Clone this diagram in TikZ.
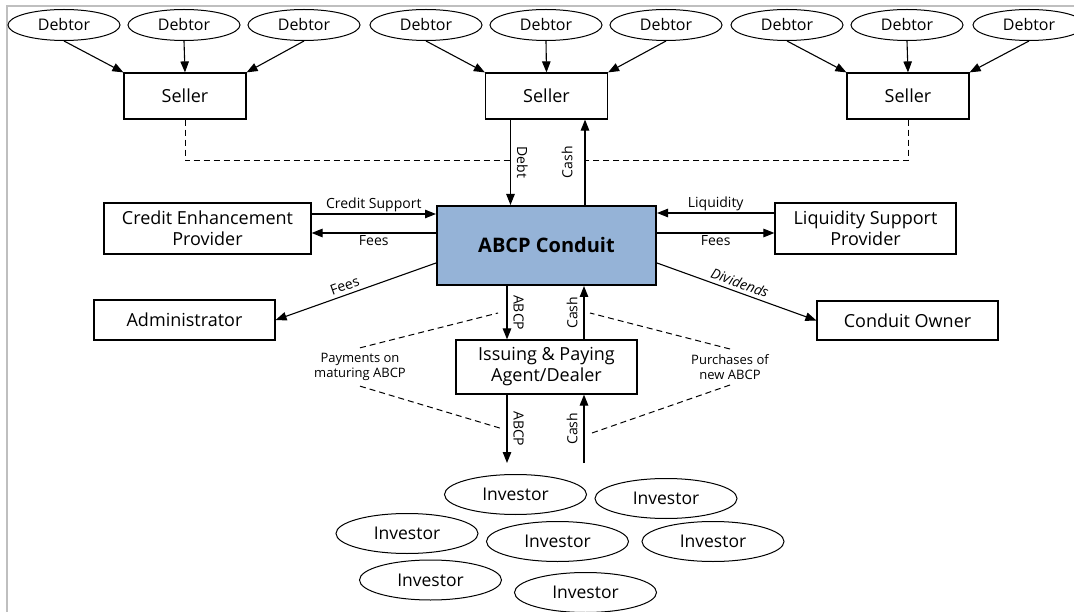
\documentclass[tikz,border=0pt]{standalone}
\usepackage{fontspec}
\setmainfont{Open Sans}
\usetikzlibrary{shapes.geometric, arrows.meta}
\newcommand{\debtorfont}{\fontsize{16}{19}\selectfont}
\newcommand{\investorfont}{\fontsize{17.5}{20}\selectfont}
\newcommand{\boxfont}{\fontsize{18}{21}\selectfont}
\newcommand{\conduitfont}{\fontsize{20}{24}\selectfont\bfseries}
\newcommand{\labfont}{\fontsize{14}{16}\selectfont}
\newcommand{\notefont}{\fontsize{13}{15.5}\selectfont}
\tikzset{
  debtor/.style={draw, ellipse, line width=1pt, minimum width=112pt,
    minimum height=31pt, inner sep=0pt, font=\debtorfont},
  investor/.style={debtor, minimum width=142pt, minimum height=40pt,
    font=\investorfont},
  party/.style={draw, rectangle, line width=1.2pt, align=center,
    inner sep=0pt, font=\boxfont},
  flow/.style={-{Triangle[length=11pt,width=8.5pt]}, line width=1.1pt},
  dashline/.style={dash pattern=on 6pt off 4pt, line width=1pt},
  lab/.style={font=\labfont, inner sep=2pt},
  slab/.style={font=\labfont, inner sep=3.5pt, above, sloped},
  vlab/.style={font=\labfont, anchor=south, inner sep=6pt},
  note/.style={font=\notefont, align=center, inner sep=5pt}
}
\begin{document}
\begin{tikzpicture}[x=1pt, y=-1pt]
\useasboundingbox (0,0) rectangle (1074,612);
\draw[black!25, line width=2pt] (7,612) -- (7,6) -- (1074,6);

% debtors and sellers
\node[debtor] (d11) at (64,25) {Debtor};
\node[debtor] (d12) at (184,25) {Debtor};
\node[debtor] (d13) at (304,25) {Debtor};
\node[debtor] (d21) at (426,25) {Debtor};
\node[debtor] (d22) at (546,25) {Debtor};
\node[debtor] (d23) at (666,25) {Debtor};
\node[debtor] (d31) at (787,25) {Debtor};
\node[debtor] (d32) at (907,25) {Debtor};
\node[debtor] (d33) at (1029,25) {Debtor};

\node[party, minimum width=122pt, minimum height=46pt] (s1) at (185,96) {Seller};
\node[party, minimum width=122pt, minimum height=46pt] (s2) at (546.5,96) {Seller};
\node[party, minimum width=122pt, minimum height=46pt] (s3) at (908,96) {Seller};

\draw[flow] (d11.south) -- (s1.north west);
\draw[flow] (d12.south) -- (s1.north);
\draw[flow] (d13.south) -- (s1.north east);
\draw[flow] (d21.south) -- (s2.north west);
\draw[flow] (d22.south) -- (s2.north);
\draw[flow] (d23.south) -- (s2.north east);
\draw[flow] (d31.south) -- (s3.north west);
\draw[flow] (d32.south) -- (s3.north);
\draw[flow] (d33.south) -- (s3.north east);

% conduit and the parties round it
\node[party, font=\conduitfont, fill={rgb,255:red,149;green,179;blue,215},
  line width=2pt, minimum width=219pt, minimum height=79pt] (cond) at (546.5,245.5) {ABCP Conduit};
\node[party, minimum width=207pt, minimum height=51pt] (cep) at (207.5,228.5) {Credit Enhancement\\Provider};
\node[party, minimum width=181pt, minimum height=40pt] (adm) at (184.5,320) {Administrator};
\node[party, minimum width=181pt, minimum height=51pt] (lsp) at (865.5,228.5) {Liquidity Support\\Provider};
\node[party, minimum width=181pt, minimum height=39pt] (own) at (907.5,320.5) {Conduit Owner};
\node[party, minimum width=181pt, minimum height=54pt] (ipa) at (546.5,367) {Issuing \& Paying\\Agent/Dealer};

\coordinate (debt) at ([xshift=-36pt]s2.south);
\coordinate (cash) at ([xshift=38.5pt]s2.south);
\coordinate (dashrow) at (0,161);
\draw[dashline] (s1.south) |- (debt |- dashrow);
\draw[dashline] (s3.south) |- (cash |- dashrow);
\draw[flow] (debt) -- (debt |- cond.north) node[midway, vlab, rotate=-90] {Debt};
\draw[flow] (cash |- cond.north) -- (cash) node[midway, vlab, rotate=90, inner sep=12pt] {Cash};

\draw[flow] ([yshift=14.5pt]cep.east) -- ([yshift=14.5pt]cep.east -| cond.west)
  node[midway, lab, above] {Credit Support};
\draw[flow] ([yshift=-4.5pt]cep.east -| cond.west) -- ([yshift=-4.5pt]cep.east)
  node[midway, lab, below] {Fees};
\draw[flow] ([yshift=15.5pt]lsp.west) -- ([yshift=15.5pt]lsp.west -| cond.east)
  node[midway, lab, above] {Liquidity};
\draw[flow] ([yshift=-4.5pt]lsp.west -| cond.east) -- ([yshift=-4.5pt]lsp.west)
  node[midway, lab, below] {Fees};
\draw[flow] ([yshift=-17.5pt]cond.west) -- (adm.east)
  node[pos=0.55, slab] {Fees};
\draw[flow] ([yshift=-17.5pt]cond.east) -- (own.west)
  node[pos=0.5, slab, font=\labfont\itshape] {Dividends};

% issuing and paying agent
\coordinate (abcp) at ([xshift=-39.5pt]cond.south);
\coordinate (cashb) at ([xshift=37.5pt]cond.south);
\coordinate (invtop) at (0,463);
\draw[flow] (abcp) -- (abcp |- ipa.north) node[midway, vlab, rotate=-90] {ABCP};
\draw[flow] (cashb |- ipa.north) -- (cashb) node[midway, vlab, rotate=90] {Cash};
\draw[flow] (abcp |- ipa.south) -- (abcp |- invtop) node[midway, vlab, rotate=-90] {ABCP};
\draw[flow] (cashb |- invtop) -- (cashb |- ipa.south) node[midway, vlab, rotate=90] {Cash};

\node[note] (pay) at (360,367) {Payments on\\maturing ABCP};
\node[note] (buy) at (730,367) {Purchases of\\new ABCP};
\coordinate (pay1) at (498,313);
\coordinate (pay2) at (503,429);
\coordinate (buy1) at (590,313);
\coordinate (buy2) at (592,433);
\draw[dashline] (pay.north) -- (pay1);
\draw[dashline] (pay.south) -- (pay2);
\draw[dashline] (buy.north) -- (buy1);
\draw[dashline] (buy.south) -- (buy2);

% investors
\node[investor] (i1) at (515.5,494.5) {Investor};
\node[investor] (i2) at (666,498.5) {Investor};
\node[investor] (i3) at (407,533.5) {Investor};
\node[investor] (i4) at (557.5,541.5) {Investor};
\node[investor] (i5) at (713,541.5) {Investor};
\node[investor] (i6) at (430.5,580) {Investor};
\node[investor] (i7) at (585.5,592.5) {Investor};
\end{tikzpicture}
\end{document}
